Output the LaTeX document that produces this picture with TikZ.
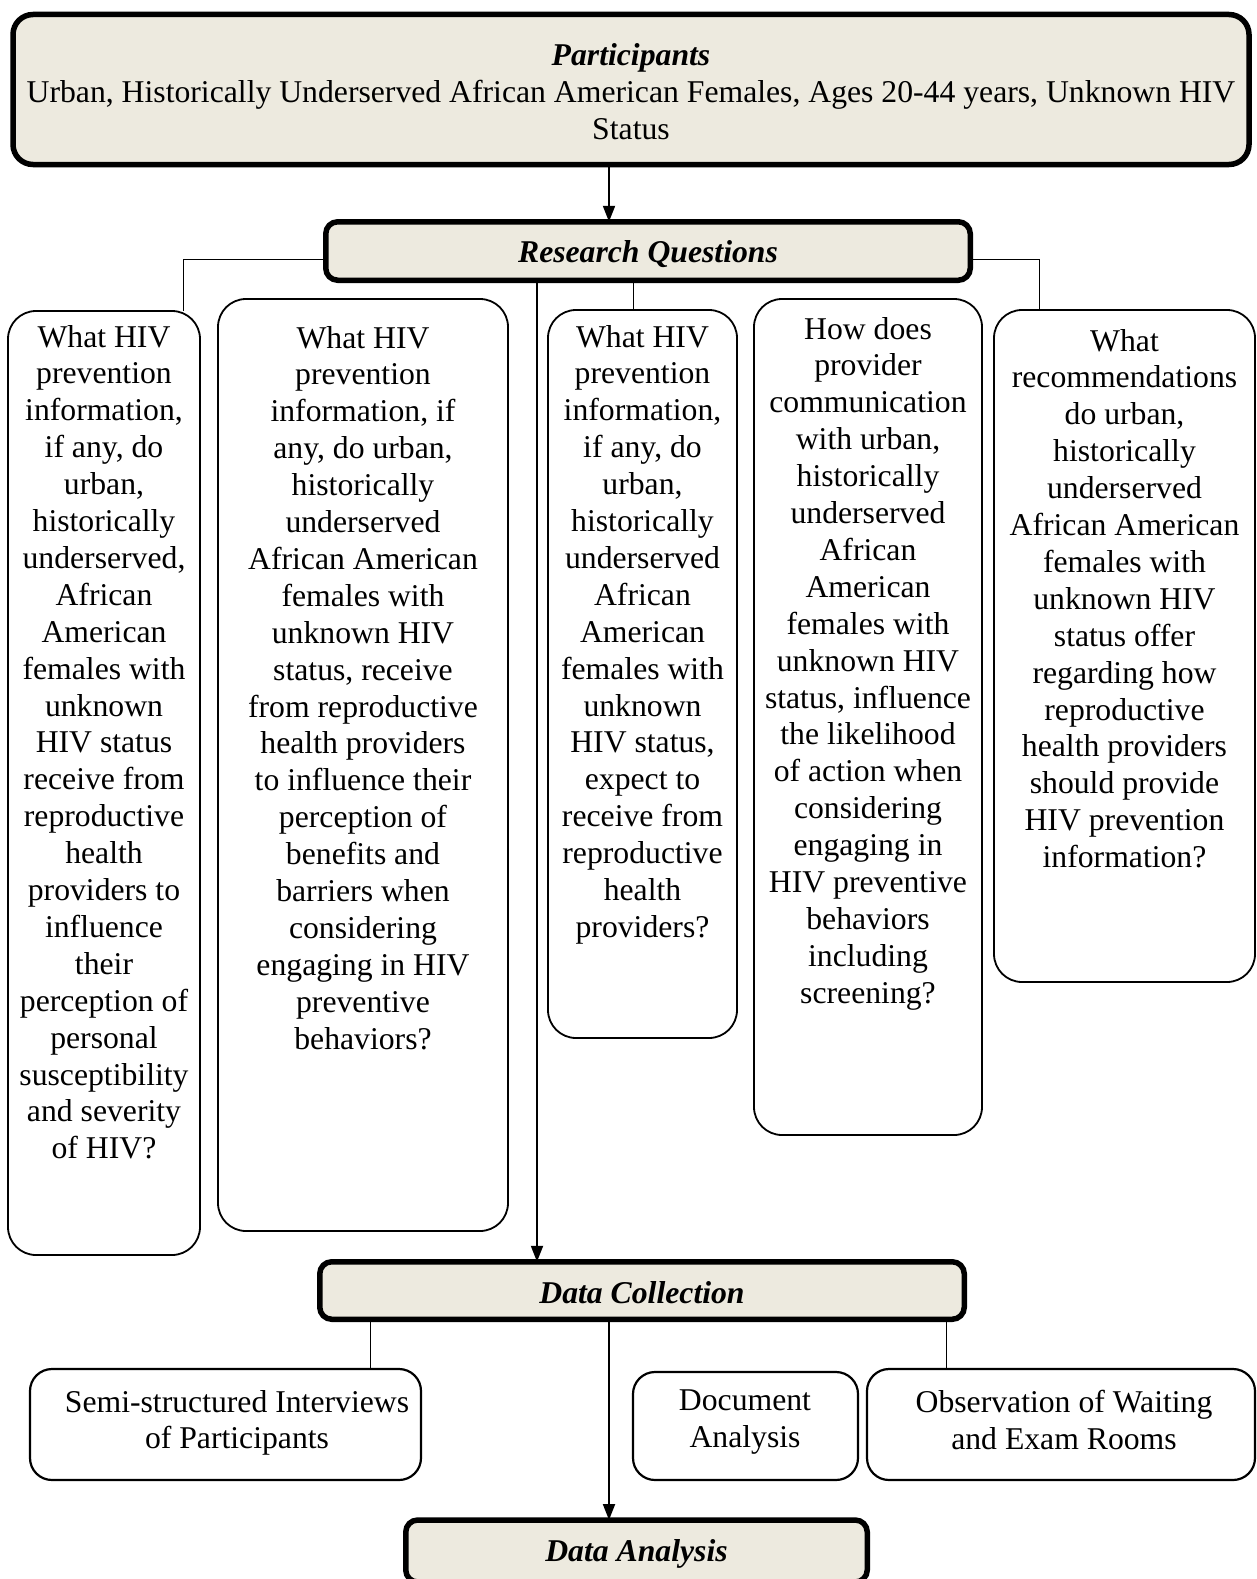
\documentclass[tikz,border=0pt]{standalone}
\usepackage{fontspec}
\setmainfont{Liberation Serif}
\usetikzlibrary{arrows.meta}
\definecolor{hdrfill}{RGB}{237,234,223}
\begin{document}
\begin{tikzpicture}[x=1pt,y=-1pt,
  every node/.style={font=\fontsize{31.7}{36.9}\selectfont, inner sep=0pt, outer sep=0pt},
  hdr/.style={draw, line width=5.5pt, fill=hdrfill, rounded corners=12pt},
  htitle/.style={anchor=base, font=\fontsize{31.7}{36.9}\selectfont\bfseries\itshape},
  qbox/.style={draw, line width=1.8pt, rounded corners=28pt},
  bbox/.style={draw, line width=2.2pt, rounded corners=22pt},
  qtext/.style={align=center, anchor=north},
  lnk/.style={line width=1pt},
  arr/.style={line width=2pt, -{Triangle[length=16pt,width=12pt]}},
]
\useasboundingbox (0,0) rectangle (1257,1579);

% headers
\node[hdr, rounded corners=20pt, minimum width=1236, minimum height=150] (part) at (631,89.5) {};
\node[align=center] (partt) at (631,92)
  {\textbf{\textit{Participants}}\\Urban, Historically Underserved African American Females, Ages 20-44 years, Unknown HIV\\Status};
\node[hdr, minimum width=644.5, minimum height=58.5] (rq) at (648,251) {};
\node[htitle] (rqt) at (648,262.5) {Research Questions};
\node[hdr, minimum width=644.5, minimum height=57.5] (dc) at (642,1290.5) {};
\node[htitle] (dct) at (642,1303.4) {Data Collection};
\node[hdr, minimum width=461.5, minimum height=62] (da) at (636.5,1551) {};
\node[htitle] (dat) at (636.5,1561.5) {Data Analysis};

% question boxes
\node[qbox, minimum width=192, minimum height=944] (q1) at (104,783) {};
\node[qbox, minimum width=290, minimum height=932] (q2) at (363,765) {};
\node[qbox, minimum width=189, minimum height=728] (q3) at (642.5,674) {};
\node[qbox, minimum width=228, minimum height=836] (q4) at (868,717) {};
\node[qbox, minimum width=261, minimum height=672] (q5) at (1124.5,646) {};

\node[qtext] (t1) at (104,325) {What HIV\\prevention\\information,\\if any, do\\urban,\\historically\\underserved,\\African\\American\\females with\\unknown\\HIV status\\receive from\\reproductive\\health\\providers to\\influence\\their\\perception of\\personal\\susceptibility\\and severity\\of HIV?};
\node[qtext] (t2) at (363,326) {What HIV\\prevention\\information, if\\any, do urban,\\historically\\underserved\\African American\\females with\\unknown HIV\\status, receive\\from reproductive\\health providers\\to influence their\\perception of\\benefits and\\barriers when\\considering\\engaging in HIV\\preventive\\behaviors?};
\node[qtext] (t3) at (642.5,325) {What HIV\\prevention\\information,\\if any, do\\urban,\\historically\\underserved\\African\\American\\females with\\unknown\\HIV status,\\expect to\\receive from\\reproductive\\health\\providers?};
\node[qtext] (t4) at (868,317) {How does\\provider\\communication\\with urban,\\historically\\underserved\\African\\American\\females with\\unknown HIV\\status, influence\\the likelihood\\of action when\\considering\\engaging in\\HIV preventive\\behaviors\\including\\screening?};
\node[qtext] (t5) at (1124.5,329) {What\\recommendations\\do urban,\\historically\\underserved\\African American\\females with\\unknown HIV\\status offer\\regarding how\\reproductive\\health providers\\should provide\\HIV prevention\\information?};

% data collection boxes
\node[bbox, minimum width=391, minimum height=111] (semi) at (225.5,1424.5) {};
\node[bbox, minimum width=225, minimum height=108] (doc) at (745.5,1426) {};
\node[bbox, minimum width=388, minimum height=111] (obs) at (1061,1424.5) {};
\node[qtext] (tsemi) at (237,1390) {Semi-structured Interviews\\of Participants};
\node[qtext] (tdoc) at (745,1390) {Document\\Analysis};
\node[qtext] (tobs) at (1064,1390) {Observation of Waiting\\and Exam Rooms};

% connectors
\draw[arr] (part.south -| 609,0) -- (rq.north -| 609,0);
\draw[lnk] (rq.west |- 0,259) -| (q1.north -| 183,0);
\draw[lnk] (rq.east |- 0,259) -| (q5.north -| 1039,0);
\draw[lnk] (rq.south -| 633,0) -- (q3.north -| 633,0);
\draw[arr] (rq.south -| 537,0) -- (dc.north -| 537,0);
\draw[lnk] (dc.south -| 370,0) -- (semi.north -| 370,0);
\draw[lnk] (dc.south -| 946,0) -- (obs.north -| 946,0);
\draw[arr] (dc.south -| 609,0) -- (da.north -| 609,0);
\end{tikzpicture}
\end{document}
